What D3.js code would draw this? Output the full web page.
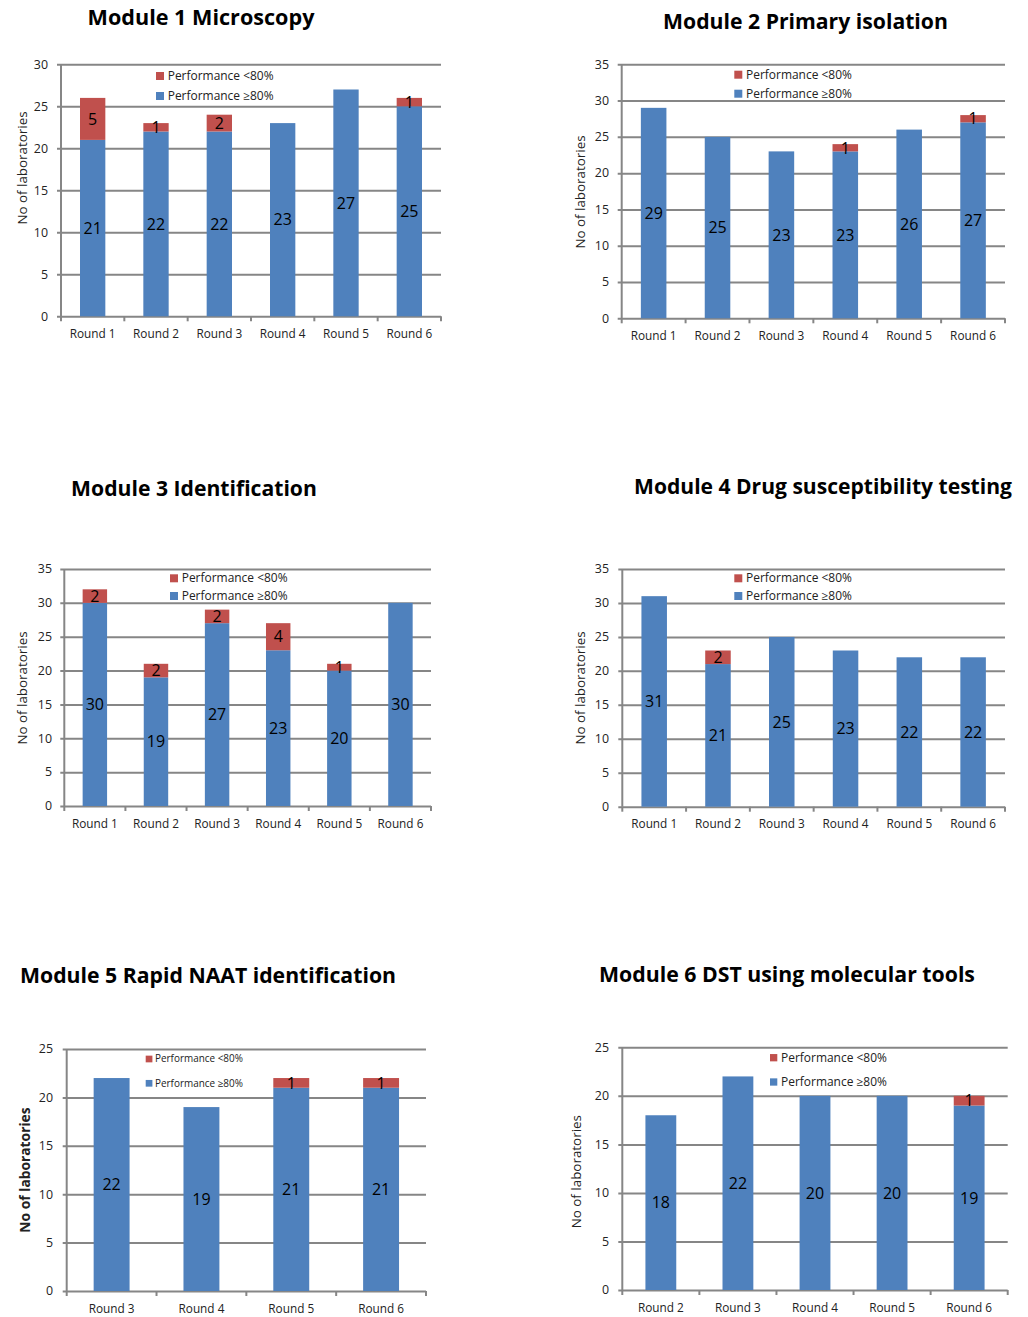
<!DOCTYPE html>
<html>
<head>
<meta charset="utf-8">
<script src="https://cdn.jsdelivr.net/npm/d3@7"></script>
<style>
  html, body { margin: 0; padding: 0; background: #fff; }
  svg { display: block; font-family: "Open Sans", "Noto Sans", sans-serif; }
</style>
</head>
<body>
<svg id="chart" width="1028" height="1317"></svg>
<script>
// ---------- DATA ----------
const titles = [
  "Module 1 Microscopy",
  "Module 2 Primary isolation",
  "Module 3 Identification",
  "Module 4 Drug susceptibility testing",
  "Module 5 Rapid NAAT identification",
  "Module 6 DST using molecular tools"
];
const legendLabels = ["Performance <80%", "Performance \u226580%"];
const yAxisTitle = "No of laboratories";

const rounds1to6 = ["Round 1", "Round 2", "Round 3", "Round 4", "Round 5", "Round 6"];
const rounds3to6 = ["Round 3", "Round 4", "Round 5", "Round 6"];
const rounds2to6 = ["Round 2", "Round 3", "Round 4", "Round 5", "Round 6"];

const m1Pass = [21, 22, 22, 23, 27, 25];
const m1Fail = [5, 1, 2, 0, 0, 1];
const m2Pass = [29, 25, 23, 23, 26, 27];
const m2Fail = [0, 0, 0, 1, 0, 1];
const m3Pass = [30, 19, 27, 23, 20, 30];
const m3Fail = [2, 2, 2, 4, 1, 0];
const m4Pass = [31, 21, 25, 23, 22, 22];
const m4Fail = [0, 2, 0, 0, 0, 0];
const m5Pass = [22, 19, 21, 21];
const m5Fail = [0, 0, 1, 1];
const m6Pass = [18, 22, 20, 20, 19];
const m6Fail = [0, 0, 0, 0, 1];

const yMaxes = [30, 35, 35, 35, 25, 25];
const yTickStep = 5;

// ---------- LAYOUT (positions only) ----------
const layouts = [
  { left: 61, right: 441, top: 64.3, bottom: 316.3, tcx: 201, tby: 25, tw: 227,
    lgx: 156, lgy: [76, 96], lgtx: 167.7, lgtw: 106, lgsq: 8, atx: 22, aty: 168, atBold: false, catY: 334, ylx: 48 },
  { left: 621.7, right: 1005, top: 64.3, bottom: 318.3, tcx: 805.5, tby: 29, tw: 285,
    lgx: 734.3, lgy: [74.7, 93.7], lgtx: 746, lgtw: 106, lgsq: 8, atx: 580, aty: 192, atBold: false, catY: 336, ylx: 609 },
  { left: 64.3, right: 431, top: 569, bottom: 806, tcx: 194, tby: 496, tw: 246,
    lgx: 170, lgy: [578.3, 596], lgtx: 181.7, lgtw: 106, lgsq: 8, atx: 22.7, aty: 688, atBold: false, catY: 824.3, ylx: 52 },
  { left: 622.3, right: 1005, top: 569, bottom: 806.7, tcx: 823, tby: 494, tw: 378,
    lgx: 734.3, lgy: [578.3, 596], lgtx: 746, lgtw: 106, lgsq: 8, atx: 580, aty: 688, atBold: false, catY: 824, ylx: 609 },
  { left: 66.7, right: 426, top: 1049, bottom: 1291, tcx: 208, tby: 983, tw: 376,
    lgx: 145.7, lgy: [1059, 1083.3], lgtx: 155, lgtw: 88, lgsq: 6.7, atx: 25, aty: 1170, atBold: true, catY: 1309, ylx: 53 },
  { left: 622.3, right: 1007.7, top: 1047.3, bottom: 1290, tcx: 787, tby: 982, tw: 376,
    lgx: 770, lgy: [1057.7, 1082], lgtx: 781, lgtw: 106, lgsq: 7.3, atx: 576.7, aty: 1171.7, atBold: false, catY: 1308, ylx: 609 }
];

const charts = [
  { cats: rounds1to6, pass: m1Pass, fail: m1Fail },
  { cats: rounds1to6, pass: m2Pass, fail: m2Fail },
  { cats: rounds1to6, pass: m3Pass, fail: m3Fail },
  { cats: rounds1to6, pass: m4Pass, fail: m4Fail },
  { cats: rounds3to6, pass: m5Pass, fail: m5Fail },
  { cats: rounds2to6, pass: m6Pass, fail: m6Fail }
];

const BLUE = "#4F81BD", RED = "#C0504D", GRID = "#868686";

const svg = d3.select("#chart");

function fitWidth(sel, base, target) {
  sel.attr("font-size", base);
  const w = sel.node().getComputedTextLength();
  sel.attr("font-size", base * target / w);
}

charts.forEach((c, i) => {
  const L = layouts[i];
  const g = svg.append("g");
  const yMax = yMaxes[i];

  const x = d3.scaleBand().domain(c.cats).range([L.left, L.right])
    .paddingInner(0.6).paddingOuter(0.3);
  const y = d3.scaleLinear().domain([0, yMax]).range([L.bottom, L.top]);
  const ticks = d3.range(0, yMax + 0.001, yTickStep);

  // gridlines + y ticks
  const yAxis = d3.axisLeft(y).tickValues(ticks).tickSize(-(L.right - L.left)).tickFormat("");
  const ya = g.append("g").attr("transform", `translate(${L.left},0)`).call(yAxis);
  ya.select(".domain").remove();
  ya.selectAll(".tick line").attr("stroke", GRID).attr("stroke-width", 2).attr("x1", -4);

  // y tick labels
  g.selectAll(".ylab").data(ticks).join("text")
    .attr("x", L.ylx).attr("y", d => y(d)).attr("dy", "0.35em")
    .attr("text-anchor", "end").attr("font-size", 12.4).attr("fill", "#222")
    .text(d => d);

  // vertical axis line
  g.append("line").attr("x1", L.left).attr("x2", L.left).attr("y1", L.top).attr("y2", L.bottom)
    .attr("stroke", GRID).attr("stroke-width", 2);

  // category boundary ticks
  const step = x.step();
  const bounds = d3.range(c.cats.length + 1).map(k => L.left + k * step);
  g.selectAll(".ctick").data(bounds).join("line")
    .attr("x1", d => d).attr("x2", d => d).attr("y1", L.bottom).attr("y2", L.bottom + 5)
    .attr("stroke", GRID).attr("stroke-width", 2);

  // bars
  const rows = c.cats.map((cat, k) => ({ cat, pass: c.pass[k], fail: c.fail[k] }));
  g.selectAll(".pass").data(rows).join("rect")
    .attr("x", d => x(d.cat)).attr("width", x.bandwidth())
    .attr("y", d => y(d.pass)).attr("height", d => y(0) - y(d.pass))
    .attr("fill", BLUE);
  g.selectAll(".fail").data(rows.filter(d => d.fail > 0)).join("rect")
    .attr("x", d => x(d.cat)).attr("width", x.bandwidth())
    .attr("y", d => y(d.pass + d.fail)).attr("height", d => y(d.pass) - y(d.pass + d.fail))
    .attr("fill", RED);

  // data labels
  g.selectAll(".plab").data(rows).join("text")
    .attr("x", d => x(d.cat) + x.bandwidth() / 2)
    .attr("y", d => (y(0) + y(d.pass)) / 2).attr("dy", "0.36em")
    .attr("text-anchor", "middle").attr("font-size", 16).attr("fill", "#000")
    .text(d => d.pass);
  g.selectAll(".flab").data(rows.filter(d => d.fail > 0)).join("text")
    .attr("x", d => x(d.cat) + x.bandwidth() / 2)
    .attr("y", d => (y(d.pass) + y(d.pass + d.fail)) / 2).attr("dy", "0.36em")
    .attr("text-anchor", "middle").attr("font-size", 16).attr("fill", "#000")
    .text(d => d.fail);

  // category labels
  g.selectAll(".clab").data(c.cats).join("text")
    .attr("x", d => x(d) + x.bandwidth() / 2).attr("y", L.catY).attr("dy", "0.35em")
    .attr("text-anchor", "middle").attr("font-size", 11.8).attr("fill", "#222")
    .text(d => d);

  // y axis title
  g.append("text")
    .attr("transform", `translate(${L.atx},${L.aty}) rotate(-90)`)
    .attr("dy", "0.35em").attr("text-anchor", "middle")
    .attr("font-size", L.atBold ? 13.8 : 13.4).attr("font-weight", L.atBold ? "bold" : "normal")
    .attr("fill", "#222").text(yAxisTitle);

  // legend
  const legColors = [RED, BLUE];
  legendLabels.forEach((lab, k) => {
    g.append("rect").attr("x", L.lgx).attr("y", L.lgy[k] - L.lgsq / 2)
      .attr("width", L.lgsq).attr("height", L.lgsq).attr("fill", legColors[k]);
    const lt = g.append("text").attr("x", L.lgtx).attr("y", L.lgy[k]).attr("dy", "0.35em")
      .attr("fill", "#222").text(lab);
    fitWidth(lt, 11, L.lgtw);
  });

  // title, sized to match width
  const t = g.append("text").attr("x", L.tcx).attr("y", L.tby)
    .attr("text-anchor", "middle").attr("font-weight", "bold").attr("fill", "#000")
    .text(titles[i]);
  fitWidth(t, 22, L.tw);
});
</script>
</body>
</html>
